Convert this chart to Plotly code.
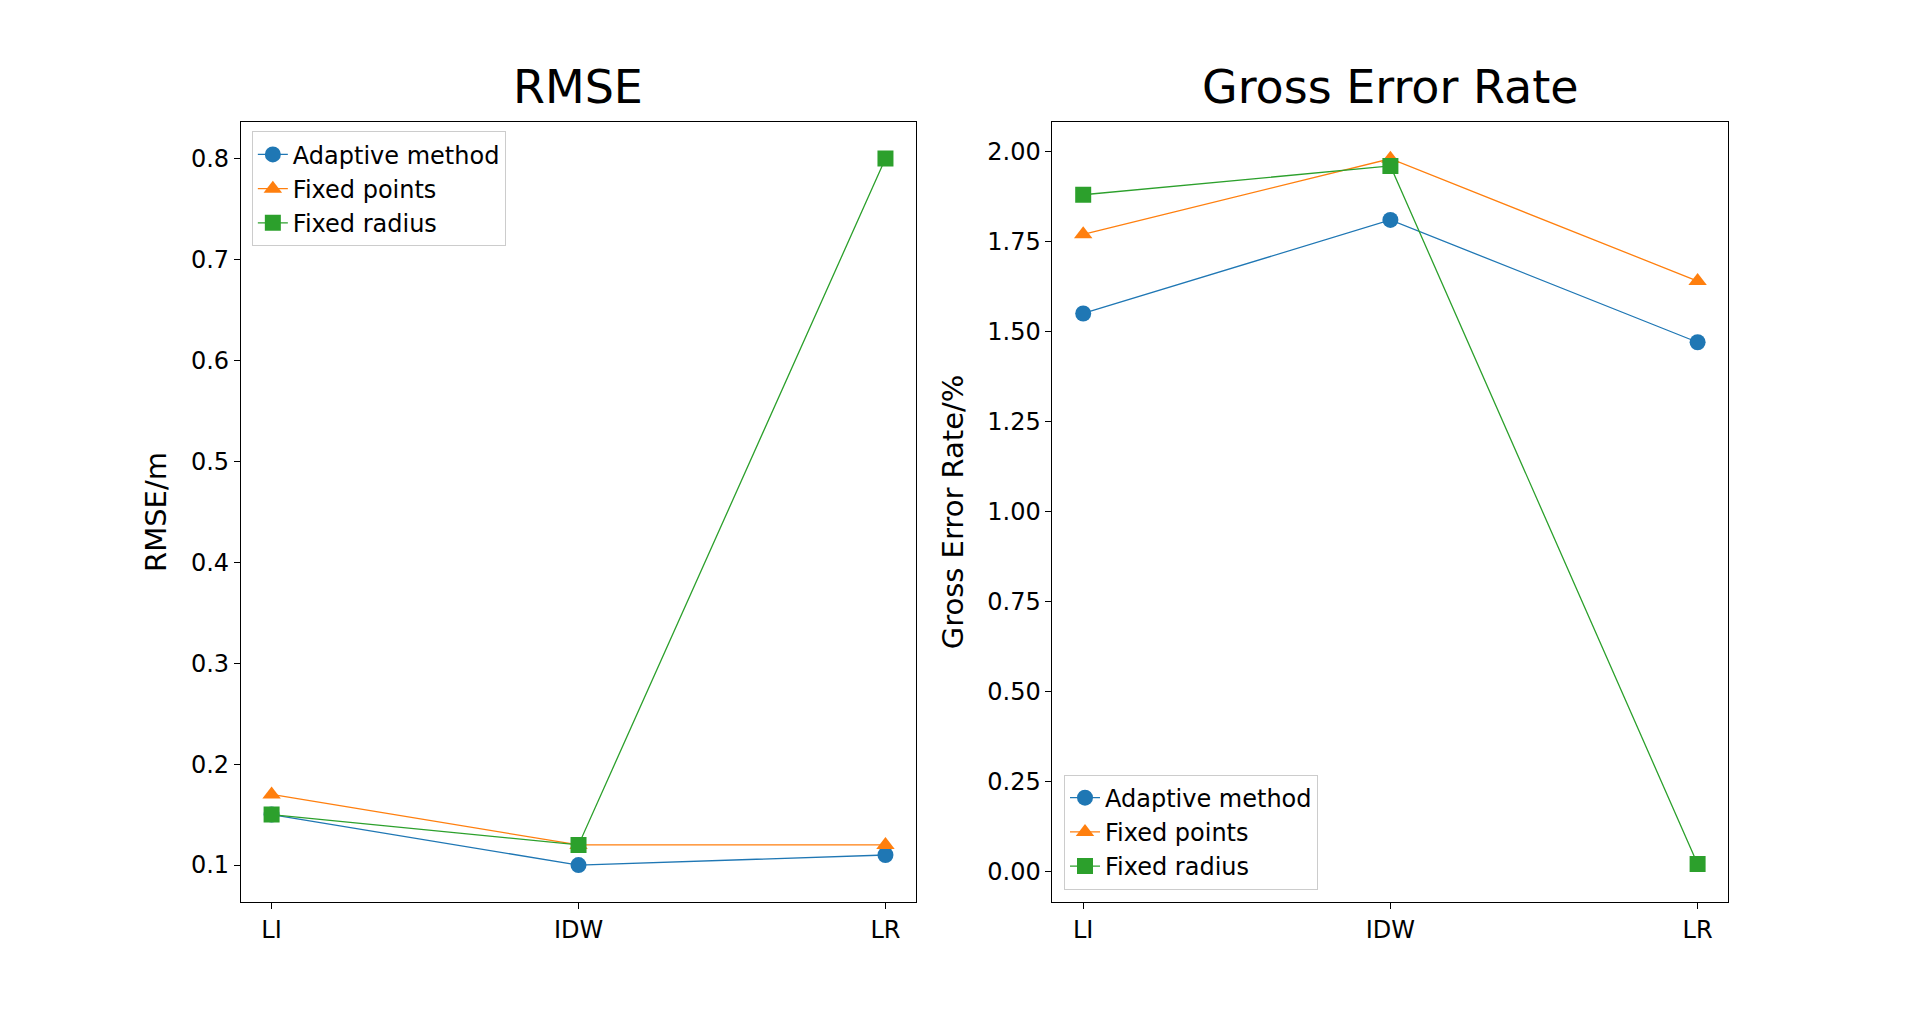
import plotly.graph_objects as go
from plotly.subplots import make_subplots

methods = ['LI', 'IDW', 'LR']
series_names = ['Adaptive method', 'Fixed points', 'Fixed radius']
colors = ['#1f77b4', '#ff7f0e', '#2ca02c']
symbols = ['circle', 'triangle-up', 'square']

rmse_adaptive = [0.15, 0.10, 0.11]
rmse_points = [0.17, 0.12, 0.12]
rmse_radius = [0.15, 0.12, 0.80]

ger_adaptive = [1.55, 1.81, 1.47]
ger_points = [1.77, 1.98, 1.64]
ger_radius = [1.88, 1.96, 0.02]

fig = make_subplots(rows=1, cols=2)

for i, ys in enumerate([rmse_adaptive, rmse_points, rmse_radius]):
    fig.add_trace(go.Scatter(x=[0, 1, 2], y=ys, mode='lines+markers', name=series_names[i],
                             line=dict(color=colors[i], width=1.3),
                             marker=dict(symbol=symbols[i], size=16, color=colors[i]),
                             legend='legend'), row=1, col=1)
for i, ys in enumerate([ger_adaptive, ger_points, ger_radius]):
    fig.add_trace(go.Scatter(x=[0, 1, 2], y=ys, mode='lines+markers', name=series_names[i],
                             line=dict(color=colors[i], width=1.3),
                             marker=dict(symbol=symbols[i], size=16, color=colors[i]),
                             legend='legend2'), row=1, col=2)

axis_style = dict(showline=True, linecolor='black', linewidth=1, mirror=True, ticks='outside',
                  ticklen=6, tickcolor='black', showgrid=False, zeroline=False,
                  tickfont=dict(size=24, color='black'))

fig.update_xaxes(axis_style, tickvals=[0, 1, 2], ticktext=methods, range=[-0.1, 2.1])
fig.update_xaxes(domain=[0.1213, 0.473], row=1, col=1)
fig.update_xaxes(domain=[0.544, 0.896], row=1, col=2)
fig.update_yaxes(axis_style, domain=[0.116, 0.887])
fig.update_yaxes(range=[0.0637, 0.836], dtick=0.1, tickformat='.1f',
                 title=dict(text='RMSE/m', font=dict(size=29, color='black')), row=1, col=1)
fig.update_yaxes(range=[-0.085, 2.0815], dtick=0.25, tickformat='.2f',
                 title=dict(text='Gross Error Rate/%', font=dict(size=29, color='black')), row=1, col=2)

legend_style = dict(font=dict(size=24, color='black'), bgcolor='white', bordercolor='#cccccc',
                    borderwidth=1, xref='paper', yref='paper')

fig.update_layout(
    width=1920, height=1011,
    margin=dict(l=0, r=0, t=0, b=0),
    plot_bgcolor='white', paper_bgcolor='white',
    font=dict(family='DejaVu Sans', color='black'),
    legend=dict(legend_style, x=0.127, y=0.878, xanchor='left', yanchor='top'),
    legend2=dict(legend_style, x=0.550, y=0.128, xanchor='left', yanchor='bottom'),
    annotations=[
        dict(text='RMSE', x=0.297, y=0.893, xref='paper', yref='paper', showarrow=False,
             xanchor='center', yanchor='bottom', font=dict(size=46)),
        dict(text='Gross Error Rate', x=0.720, y=0.893, xref='paper', yref='paper', showarrow=False,
             xanchor='center', yanchor='bottom', font=dict(size=46)),
    ],
)

fig.write_html('out.html')
